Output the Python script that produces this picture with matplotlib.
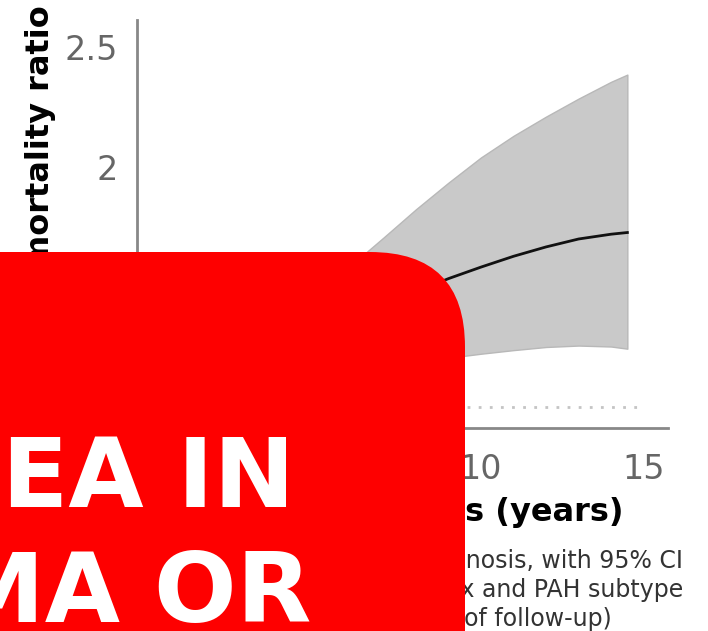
import matplotlib
matplotlib.use("Agg")
import matplotlib.pyplot as plt
from matplotlib.patches import FancyBboxPatch
from matplotlib.transforms import IdentityTransform

# years since diagnosis and mortality ratio with 95% CI
years = [0, 1, 2, 3, 4, 5, 6, 7, 8, 9, 10, 11, 12, 13, 14, 14.5]
ratio = [1.05, 1.10, 1.15, 1.20, 1.25, 1.30, 1.35, 1.41, 1.48, 1.535,
         1.583, 1.628, 1.667, 1.70, 1.72, 1.727]
ci_upper = [1.15, 1.20, 1.26, 1.33, 1.41, 1.50, 1.59, 1.706, 1.824, 1.935,
            2.04, 2.13, 2.21, 2.285, 2.355, 2.385]
ci_lower = [0.95, 0.98, 1.01, 1.04, 1.07, 1.10, 1.13, 1.16, 1.185, 1.205,
            1.222, 1.237, 1.250, 1.256, 1.252, 1.243]

# only the tick labels that show outside the red box
xticks = [10, 15]
yticks = [2, 2.5]
ytick_labels = ["2", "2.5"]

W, H = 708, 631
fig = plt.figure(figsize=(W / 100, H / 100), dpi=100)
ax = fig.add_axes([137 / W, 1 - 428 / H, (668 - 137) / W, (428 - 20) / H])

ax.fill_between(years, ci_lower, ci_upper, facecolor="#c9c9c9",
                edgecolor="#b8b8b8", linewidth=1, zorder=1)
ax.plot(years, ratio, color="#111111", linewidth=2, zorder=3)
ax.hlines(1, 0, 14.9, colors="#c4c4c4", linestyles=(0, (1, 3)), linewidth=2, zorder=2)

ax.set_xlim(-0.58, 15.75)
ax.set_ylim(0.9125, 2.6125)
ax.set_xticks(xticks)
ax.set_yticks(yticks)
ax.set_yticklabels(ytick_labels)
ax.tick_params(length=0, labelsize=24, labelcolor="#666666")
ax.tick_params(axis="y", pad=14)
ax.tick_params(axis="x", pad=18)
for s in ["top", "right"]:
    ax.spines[s].set_visible(False)
for s in ["left", "bottom"]:
    ax.spines[s].set_color("#888888")
    ax.spines[s].set_linewidth(2)

fig.text(41 / W, 1 - 5 / H, "mortality ratio", rotation=90,
         ha="center", va="top", fontsize=23, fontweight="bold")
fig.text(624 / W, 1 - 513 / H, "diagnosis (years)",
         ha="right", va="center", fontsize=23, fontweight="bold")

cap = dict(fontsize=17, color="#333333", va="center")
fig.text(683 / W, 1 - 561 / H, "diagnosis, with 95% CI", ha="right", **cap)
fig.text(683 / W, 1 - 590 / H, "sex and PAH subtype", ha="right", **cap)
fig.text(612 / W, 1 - 619 / H, "year of follow-up)", ha="right", **cap)

# red overlay box
box = FancyBboxPatch((-150, -150), 465 + 150, (H - 252) + 150,
                     boxstyle="round,pad=0,rounding_size=95",
                     transform=IdentityTransform(), facecolor="#fe0000",
                     edgecolor="none", zorder=10)
fig.patches.append(box)
fig.text(2 / W, 1 - 507 / H, "EA IN", ha="left", va="baseline", fontsize=70,
         fontweight="bold", color="white", zorder=11)
fig.text(312 / W, 1 - 622 / H, "MA OR", ha="right", va="baseline", fontsize=70,
         fontweight="bold", color="white", zorder=11)

fig.savefig("out.png", dpi=100)
